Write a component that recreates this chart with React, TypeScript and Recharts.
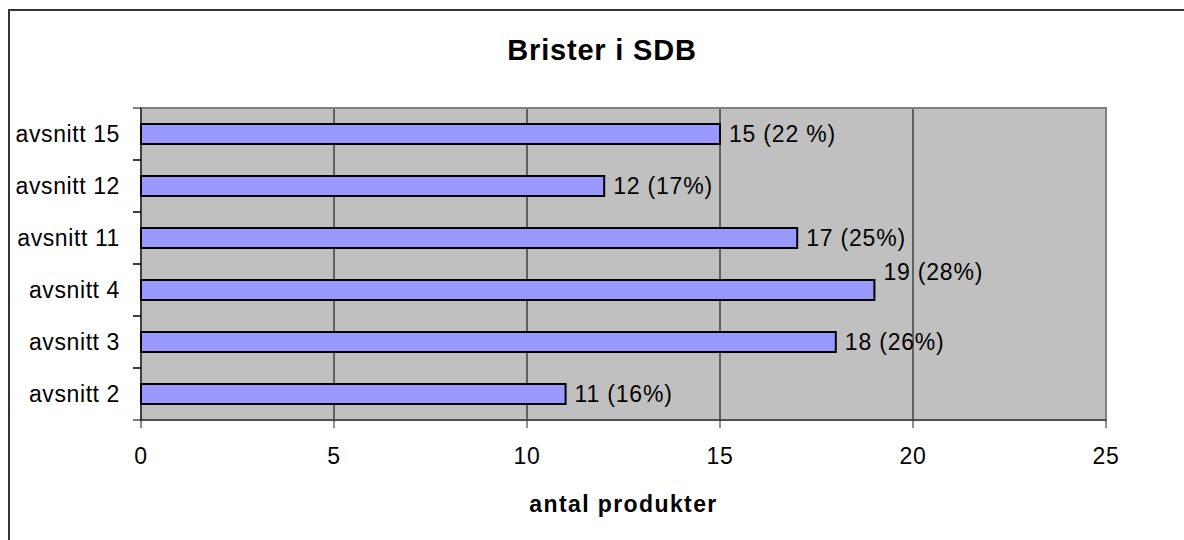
import { BarChart, Bar, XAxis, YAxis, CartesianGrid, LabelList, ReferenceArea } from 'recharts'

const categories = ['avsnitt 15', 'avsnitt 12', 'avsnitt 11', 'avsnitt 4', 'avsnitt 3', 'avsnitt 2']
const counts = [15, 12, 17, 19, 18, 11]
const valueLabels = ['15 (22 %)', '12 (17%)', '17 (25%)', '19 (28%)', '18 (26%)', '11 (16%)']
const xTicks = [0, 5, 10, 15, 20, 25]

const data = categories.map((name, i) => ({ name, count: counts[i], label: valueLabels[i] }))

const FONT = 'Arial, "Liberation Sans", sans-serif'

const CategoryTick = ({ x, y, payload }) => {
  const half = payload.offset || 0
  return (
    <g>
      <line x1={x - 8} x2={x} y1={y - half} y2={y - half} stroke="#000" />
      <line x1={x - 8} x2={x} y1={y + half} y2={y + half} stroke="#000" />
      <text
        x={x - 21}
        y={y}
        dy="0.36em"
        textAnchor="end"
        fontSize={23}
        letterSpacing={0.6}
        fontFamily={FONT}
        fill="#000"
      >
        {payload.value}
      </text>
    </g>
  )
}

const ValueLabel = (props) => {
  const { x, y, width, height, index } = props
  // Excel pushed this one label up above its bar
  const raised = categories[index] === 'avsnitt 4'
  return (
    <text
      x={x + width + 9}
      y={y + height / 2 + (raised ? -18 : 0)}
      dy="0.36em"
      fontSize={23}
      letterSpacing={0.8}
      fontFamily={FONT}
      fill="#000"
    >
      {valueLabels[index]}
    </text>
  )
}

export default function App() {
  return (
    <div style={{ position: 'absolute', left: 0, top: 0, width: 1184, height: 540, overflow: 'hidden', background: '#fff' }}>
      <div
        style={{
          position: 'absolute',
          left: 8,
          top: 9,
          width: 1400,
          height: 800,
          border: '2px solid #333',
        }}
      />
      <div
        style={{
          position: 'absolute',
          left: 0,
          width: 1204,
          top: 33,
          textAlign: 'center',
          fontFamily: FONT,
          fontWeight: 'bold',
          fontSize: 29,
          letterSpacing: 0.8,
          lineHeight: '34px',
        }}
      >
        Brister i SDB
      </div>
      <div style={{ position: 'absolute', left: 0, top: 0 }}>
        <BarChart
          width={1184}
          height={540}
          data={data}
          layout="vertical"
          margin={{ top: 108, right: 78, bottom: 20, left: 8 }}
        >
          <CartesianGrid horizontal={false} stroke="#000" fill="#C0C0C0" fillOpacity={1} />
          <ReferenceArea x1={0} x2={25} fill="none" stroke="#808080" strokeWidth={2} />
          <XAxis
            type="number"
            domain={[0, 25]}
            ticks={xTicks}
            interval={0}
            stroke="#222"
            tickSize={8}
            tickMargin={20}
            height={100}
            tick={{ fill: '#000', fontSize: 23, fontFamily: FONT, letterSpacing: 0.6 }}
            label={{
              value: 'antal produkter',
              position: 'insideBottom',
              offset: 8,
              fill: '#000',
              fontSize: 23,
              fontWeight: 'bold',
              fontFamily: FONT,
              letterSpacing: 1.4,
            }}
          />
          <YAxis
            type="category"
            dataKey="name"
            width={133}
            stroke="#000"
            tickLine={false}
            tickSize={0}
            tickMargin={0}
            interval={0}
            tick={<CategoryTick />}
          />
          <Bar
            dataKey="count"
            fill="#9999FF"
            stroke="#000"
            strokeWidth={2}
            barSize={20}
            isAnimationActive={false}
          >
            <LabelList dataKey="label" content={<ValueLabel />} />
          </Bar>
        </BarChart>
      </div>
    </div>
  )
}
